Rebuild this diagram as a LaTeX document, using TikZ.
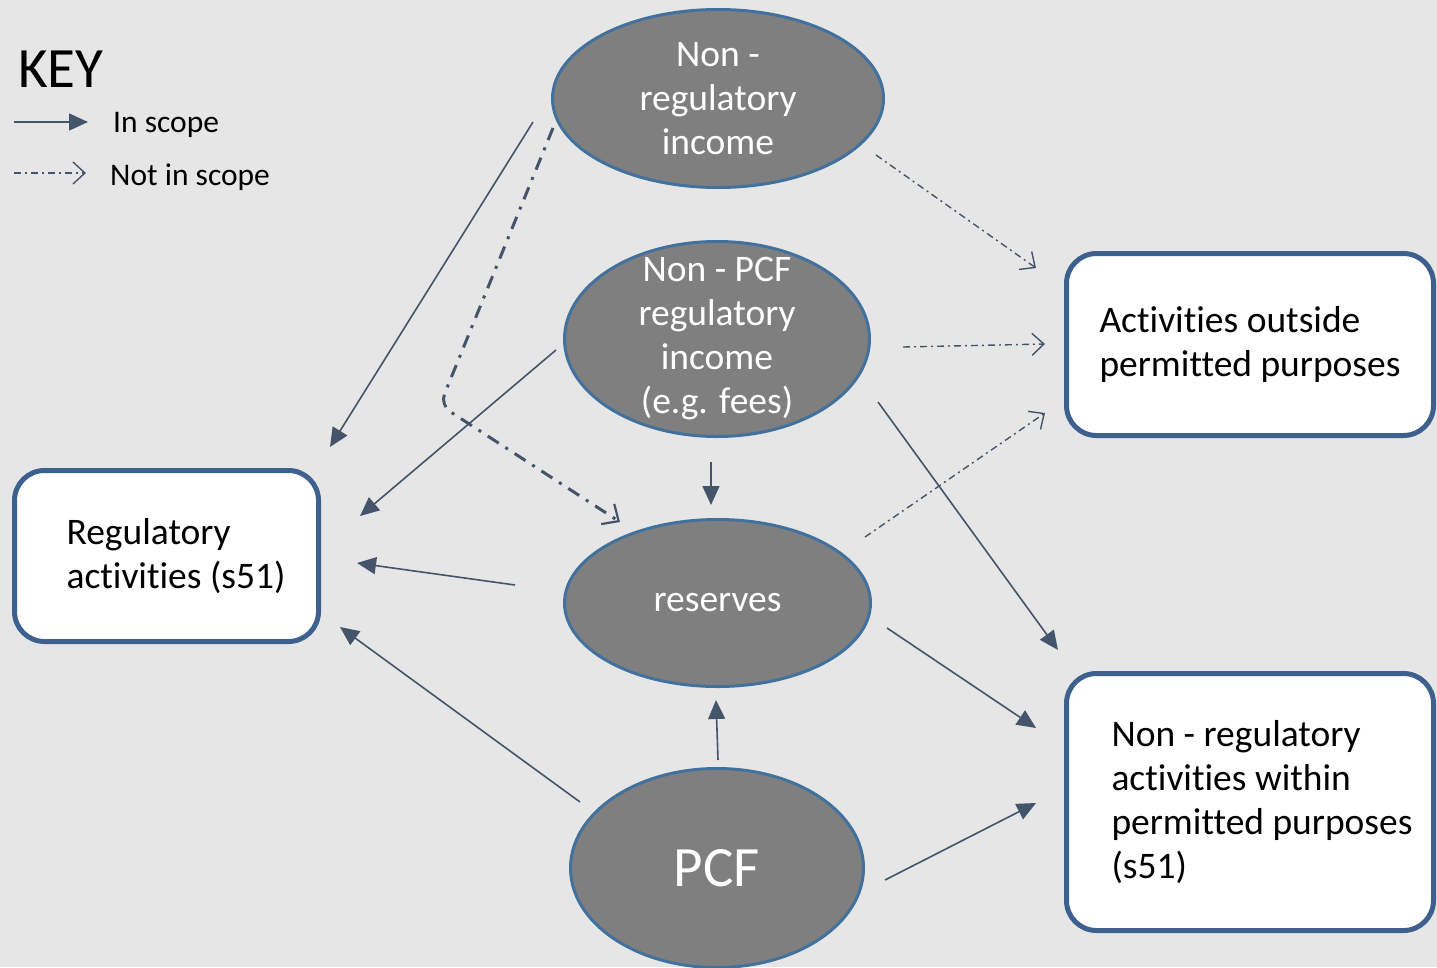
\documentclass[tikz,border=0pt]{standalone}
\usepackage{fontspec}
\setmainfont{Carlito}[Ligatures=NoCommon]
\usetikzlibrary{arrows.meta,shapes.geometric,calc}
\definecolor{bgc}{HTML}{E7E6E6}
\definecolor{ovalfill}{HTML}{7F7F7F}
\definecolor{ovalline}{HTML}{41719C}
\definecolor{boxline}{RGB}{62,96,143}
\definecolor{arrowc}{HTML}{44546A}
\begin{document}
\begin{tikzpicture}[x=1pt,y=-1pt,
  oval/.style={ellipse, fill=ovalfill, draw=ovalline, line width=3pt, inner sep=-30pt,
    text=white, align=center, font=\fontsize{37.5}{44}\selectfont},
  rbox/.style={rectangle, rounded corners=30pt, fill=white, draw=boxline, line width=5pt,
    align=left, inner sep=0pt, font=\fontsize{37.5}{44}\selectfont},
  inscope/.style={draw=arrowc, line width=1.6pt, -{Triangle[length=19pt,width=17pt]}},
  notscope/.style={draw=arrowc, line width=1.4pt, dash pattern=on 7pt off 4pt on 2pt off 4pt,
    -{Straight Barb[length=12pt,width=22pt,line width=1.4pt]}},
  notthick/.style={draw=arrowc, line width=3pt, dash pattern=on 13pt off 8pt on 3pt off 8pt,
    -{Straight Barb[length=13pt,width=24pt,line width=2.2pt]}},
  keytext/.style={anchor=base west, inner sep=0pt, font=\fontsize{31.5}{36}\selectfont}
]
\fill[bgc] (0,0) rectangle (1437,967);
\useasboundingbox (0,0) rectangle (1437,967);

% key
\node[anchor=base west, inner sep=0pt, font=\fontsize{57}{60}\selectfont] (key) at (18,87) {KEY};
\coordinate (k1a) at (14,122);
\coordinate (k1b) at (88,122);
\coordinate (k2a) at (14,173);
\coordinate (k2b) at (86,173);
\draw[inscope] (k1a) -- (k1b);
\draw[notscope] (k2a) -- (k2b);
\node[keytext] (kin) at (113,132) {In scope};
\node[keytext] (knot) at (110,185) {Not in scope};

% ellipses
\node[oval, minimum width=331pt, minimum height=178pt] (nri) at (718,98.5) {Non -\\regulatory\\income};
\node[oval, minimum width=305pt, minimum height=195pt] (npcf) at (717,339) {Non - PCF\\regulatory\\income\\(e.g. fees)};
\node[oval, minimum width=306pt, minimum height=167pt] (res) at (717.5,603) {reserves};
\node[oval, minimum width=293pt, minimum height=199pt, font=\fontsize{57}{60}\selectfont] (pcf) at (717,868) {PCF};

% boxes
\node[rbox, minimum width=304pt, minimum height=171pt] (reg) at (166.5,556)
  {\hspace*{19pt}Regulatory\\\hspace*{19pt}activities (s51)};
\node[rbox, minimum width=367pt, minimum height=182pt] (out) at (1250,344.5)
  {Activities outside\\permitted purposes};
\node[rbox, minimum width=367pt, minimum height=257pt] (nra) at (1250,802)
  {\hspace*{24pt}Non - regulatory\\\hspace*{24pt}activities within\\\hspace*{24pt}permitted purposes\\\hspace*{24pt}(s51)};

% in scope connectors
\draw[inscope] ($(nri)+(-185,23.5)$) -- ($(reg)+(163.5,-109)$);
\draw[inscope] ($(npcf)+(-161,11)$) -- ($(reg)+(193.5,-40)$);
\draw[inscope] ($(res)+(-202.5,-18)$) -- ($(reg)+(190.5,7)$);
\draw[inscope] ($(pcf)+(-137,-66)$) -- ($(reg)+(173.5,71)$);
\draw[inscope] ($(npcf)+(-6,123)$) -- ($(res)+(-6.5,-98)$);
\draw[inscope] ($(pcf)+(1,-108)$) -- ($(res)+(-1.5,97)$);
\draw[inscope] ($(npcf)+(161,63)$) -- ($(nra)+(-192,-152)$);
\draw[inscope] ($(res)+(169.5,25)$) -- ($(nra)+(-214,-74)$);
\draw[inscope] ($(pcf)+(168,12)$) -- ($(nra)+(-214,1)$);

% not in scope connectors
\draw[notscope] ($(nri)+(158,56.5)$) -- ($(out)+(-214,-76.5)$);
\draw[notscope] ($(npcf)+(186,8)$) -- ($(out)+(-205,-0.5)$);
\draw[notscope] ($(res)+(147.5,-66)$) -- ($(out)+(-205,68.5)$);
\coordinate (bend) at (440,405);
\draw[notthick, rounded corners=12pt] ($(nri)+(-165,29.5)$) -- (bend) -- ($(res)+(-97.5,-81)$);
\end{tikzpicture}
\end{document}
